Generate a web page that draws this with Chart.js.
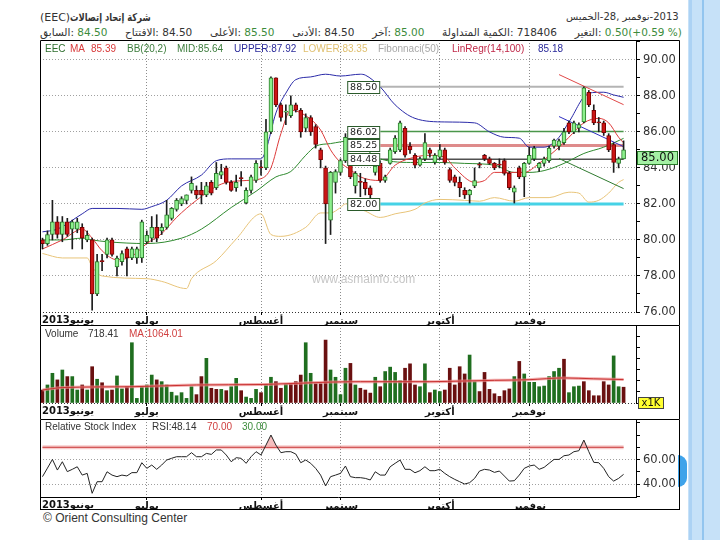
<!DOCTYPE html>
<html>
<head>
<meta charset="utf-8">
<title>EEC</title>
<script src="https://cdn.jsdelivr.net/npm/chart.js@4/dist/chart.umd.min.js"></script>
<style>
  html, body { margin: 0; padding: 0; background: #fff; }
  body { width: 720px; height: 540px; position: relative; overflow: hidden; font-family: "DejaVu Sans", sans-serif; }
  canvas { position: absolute; left: 40px; display: block; }
  #cPrice { top: 40px; }
  #cVol { top: 325px; }
  #cRsi { top: 419px; }
  .hdr { position: absolute; white-space: nowrap; direction: ltr; color: #333; font-size: 10.5px; }
  .hdr span { unicode-bidi: isolate; }
  .g { color: #3c8c3c; }
  #h1 { left: 40px; top: 11px; font-size: 11px; }
  #h1 .ar { display: inline-block; font-weight: bold; transform: scaleX(0.76); transform-origin: left center; }
  #hDate { left: 566px; top: 11px; font-size: 10px; }
  #h2 { left: 40px; top: 26px; width: 642px; display: flex; justify-content: space-between; }
  #foot { position: absolute; left: 43px; top: 511px; font: 12px "Liberation Sans", sans-serif; color: #333; }
  #strip { position: absolute; left: 688px; top: 0; width: 32px; height: 540px; background: #c6e1f8; }
  #strip1 { position: absolute; left: 689px; top: 0; width: 3px; height: 540px; background: #acd2f4; }
  #strip2 { position: absolute; left: 702px; top: 0; width: 2px; height: 540px; background: #93c5ef; }
  #knob { position: absolute; left: 678px; top: 455px; width: 9px; height: 32px; background: #3fa3ea; border-radius: 0 16px 16px 0 / 0 16px 16px 0; }
</style>
</head>
<body>
<div id="strip"></div><div id="strip1"></div><div id="strip2"></div>
<div id="knob"></div>

<div class="hdr" id="h1"><span>(EEC)</span><span class="ar">شركة إتحاد إتصالات</span></div>
<div class="hdr" id="hDate"><span>الخميس</span><span>-28, </span><span>نوفمبر</span><span>-2013</span></div>
<div class="hdr" id="h2">
  <span><span>السابق:</span> <span class="g">84.50</span></span>
  <span><span>الافتتاح:</span> <span>84.50</span></span>
  <span><span>الأعلى:</span> <span class="g">85.50</span></span>
  <span><span>الأدنى:</span> <span>84.50</span></span>
  <span><span>آخر:</span> <span class="g">85.00</span></span>
  <span><span>الكمية المتداولة:</span> <span>718406</span></span>
  <span><span>التغير:</span> <span class="g">0.50(+0.59 %)</span></span>
</div>

<canvas id="cPrice" width="640" height="285"></canvas>
<canvas id="cVol" width="640" height="94"></canvas>
<canvas id="cRsi" width="640" height="91"></canvas>

<div id="foot">© Orient Consulting Center</div>

<script>
// month axis
const months = ['يونيو2013', 'يوليو', 'أغسطس', 'سبتمبر', 'أكتوبر', 'نوفمبر'];
const monthStart = [0, 21, 44, 60, 80, 98];
const SLOTS = 120; // 118 sessions + 2 empty slots on the right

// daily prices
const open = [80.0, 79.8, 80.3, 81.0, 80.3, 81.0, 80.6, 80.6, 80.7, 80.0,
  80.0, 77.0, 78.85, 79.2, 80.0, 78.5, 78.8, 79.5, 79.0, 79.0,
  79.0, 79.9, 80.1, 80.7, 80.5, 80.7, 81.2, 81.7, 82.0, 82.2,
  82.75, 82.75, 82.75, 82.5, 83.2, 82.9, 83.6, 84.0, 83.2, 82.9,
  83.45, 82.05, 82.75, 83.3, 84.05, 84.0, 86.0, 89.0, 87.5, 87.1,
  86.9, 87.5, 87.2, 86.2, 86.8, 86.3, 85.0, 84.0, 81.1, 83.2,
  83.75, 84.4, 84.5, 83.0, 83.25, 83.2, 82.9, 83.75, 84.25, 83.3,
  84.25, 84.9, 85.0, 86.2, 85.2, 84.7, 84.15, 84.5, 85.0, 84.3,
  84.6, 85.0, 83.9, 83.5, 83.2, 82.75, 82.5, 83.0, 84.2, 84.7,
  84.5, 84.25, 84.2, 84.4, 83.7, 82.65, 84.0, 83.5, 84.25, 84.5,
  84.0, 84.25, 84.4, 85.2, 85.2, 85.4, 86.5, 86.0, 86.2, 86.55,
  88.2, 87.2, 86.55, 86.5, 85.8, 85.3, 84.25, 84.5];
const high = [80.1, 80.5, 82.2, 81.3, 81.3, 81.2, 81.1, 81.2, 80.9, 80.5,
  80.1, 79.2, 79.2, 80.1, 80.1, 79.1, 79.4, 79.6, 79.6, 79.6,
  81.1, 80.5, 81.3, 81.4, 80.9, 82.2, 81.8, 82.3, 82.4, 82.5,
  83.5, 83.0, 83.2, 83.2, 83.3, 84.3, 84.2, 84.1, 83.3, 83.6,
  83.8, 82.9, 83.6, 84.4, 84.4, 86.7, 89.05, 89.0, 87.6, 87.5,
  88.0, 87.6, 87.3, 87.0, 86.9, 86.4, 85.1, 84.1, 83.8, 83.9,
  84.5, 85.9, 84.6, 83.8, 83.7, 83.4, 83.0, 84.3, 84.4, 83.6,
  85.1, 85.8, 86.6, 86.3, 85.4, 84.8, 84.6, 85.9, 85.1, 84.8,
  85.3, 85.1, 84.0, 83.6, 83.5, 82.9, 82.8, 84.0, 84.3, 84.75,
  84.6, 84.3, 84.5, 84.5, 83.8, 83.0, 84.1, 84.3, 85.15, 85.2,
  84.3, 84.6, 85.2, 85.6, 85.6, 86.2, 86.6, 86.6, 86.5, 88.5,
  88.3, 87.5, 86.8, 86.6, 85.9, 85.4, 84.6, 85.5];
const low = [79.5, 79.7, 80.0, 80.1, 79.9, 80.2, 79.5, 80.4, 79.5, 79.9,
  76.1, 76.9, 78.3, 79.0, 79.1, 78.0, 78.6, 78.0, 78.9, 78.7,
  78.75, 79.8, 79.9, 79.9, 80.3, 80.6, 81.1, 81.6, 81.9, 82.0,
  82.6, 82.3, 82.0, 82.4, 82.5, 82.8, 83.4, 83.1, 82.7, 82.7,
  83.0, 82.0, 82.6, 83.2, 83.6, 83.9, 85.9, 87.4, 86.6, 86.4,
  86.8, 87.1, 85.7, 86.0, 85.8, 85.1, 84.0, 79.8, 80.3, 82.6,
  83.6, 84.3, 83.4, 82.6, 82.4, 82.5, 82.3, 83.6, 83.2, 83.2,
  84.2, 84.8, 84.9, 84.6, 84.8, 84.0, 84.1, 84.4, 84.6, 84.2,
  84.5, 84.2, 83.2, 83.0, 82.4, 82.3, 82.05, 82.9, 84.0, 84.4,
  84.2, 83.9, 84.0, 83.6, 82.8, 82.05, 83.4, 82.4, 84.2, 84.4,
  83.8, 84.1, 84.3, 85.1, 85.0, 85.3, 85.9, 85.9, 86.0, 86.5,
  87.4, 86.4, 86.0, 85.8, 84.9, 83.75, 84.0, 84.5];
const close = [79.8, 80.3, 81.0, 80.3, 81.0, 80.3, 81.0, 81.0, 80.1, 80.25,
  77.0, 78.8, 78.8, 80.0, 79.2, 79.0, 79.25, 79.0, 79.5, 79.5,
  81.0, 80.25, 80.7, 80.1, 80.7, 81.4, 81.75, 82.2, 82.3, 82.5,
  83.15, 82.5, 82.5, 83.0, 82.6, 83.7, 83.8, 83.2, 82.75, 83.2,
  83.4, 82.75, 83.5, 84.25, 84.0, 86.0, 89.0, 87.5, 86.8, 87.15,
  87.5, 87.2, 86.0, 86.8, 86.0, 85.3, 84.45, 82.0, 83.75, 83.8,
  84.4, 85.7, 83.5, 83.7, 83.2, 82.85, 82.5, 84.1, 83.3, 83.5,
  85.0, 85.65, 86.5, 84.7, 85.0, 84.15, 84.5, 85.4, 84.8, 84.7,
  85.0, 84.3, 83.3, 83.2, 82.9, 82.5, 82.75, 83.3, 84.15, 84.5,
  84.25, 84.0, 84.15, 83.7, 82.9, 82.9, 83.5, 84.25, 84.7, 85.1,
  84.25, 84.5, 85.1, 85.55, 85.5, 86.0, 86.0, 86.5, 86.4, 88.45,
  87.5, 86.5, 86.5, 85.95, 85.0, 84.3, 84.5, 85.0];

// volume in thousands, and bar colour per session (G = up, R = down)
const volume = [590, 820, 1350, 1050, 1500, 1200, 1200, 590, 820, 590,
  1650, 1080, 920, 560, 590, 1230, 640, 740, 2740, 210,
  740, 820, 1270, 1050, 970, 820, 490, 330, 470, 210,
  740, 380, 1200, 2030, 670, 620, 620, 560, 740, 1120,
  560, 270, 210, 620, 470, 850, 1170, 970, 670, 850,
  880, 970, 1270, 2740, 1350, 880, 880, 2860, 1500, 1170,
  380, 1580, 1800, 820, 670, 590, 450, 1170, 740, 1430,
  1630, 1390, 1010, 1580, 1780, 820, 740, 1780, 470, 590,
  520, 590, 1580, 820, 1650, 1320, 2180, 970, 520, 1390,
  620, 420, 300, 560, 640, 1200, 1890, 1320, 940, 940,
  740, 770, 1200, 1430, 1580, 1990, 470, 740, 770, 970,
  560, 330, 330, 970, 820, 2140, 740, 718];
const volDir = 'RGGRGRGGRGRGRGRGGRGGGGGRGGGGGGGRRGRRGRGGRGGGRGGRRGRRRGGRRRGGGGRG' +
  'RRRGRGGGGRRRGGRGGRRRRRGGRRRRRRRGRGGGGGGGGRGGGRRRRRRGG';

// indicator lines, [session, value] read at sample points
const maPts = [[0, 79.5], [4, 80.0], [8, 80.6], [10, 80.1], [12, 79.4], [15, 78.9], [18, 79.1],
  [21, 79.8], [24, 80.35], [27, 81.25], [31, 82.2], [36, 83.1], [41, 83.3], [44, 83.4],
  [46, 84.0], [48, 85.9], [50, 87.2], [53, 86.9], [56, 86.1], [58, 85.0], [60, 84.3],
  [62, 83.9], [64, 83.5], [68, 83.3], [71, 84.15], [75, 84.6], [78, 84.7], [81, 84.6],
  [83, 84.0], [87, 83.2], [89, 83.3], [91, 83.75], [94, 83.75], [97, 83.75], [100, 84.25],
  [104, 85.15], [106, 85.7], [109, 86.5], [112, 86.75], [114, 86.5], [116, 85.7], [117, 85.39]];
const bbUpperPts = [[0, 80.45], [3, 80.6], [8, 81.45], [10, 81.75], [15, 81.75], [20, 81.7],
  [22, 81.85], [25, 82.2], [28, 83.0], [32, 83.6], [35, 84.4], [38, 84.5], [44, 84.5],
  [45, 85.0], [47, 87.05], [49, 88.15], [51, 88.9], [54, 89.05], [57, 89.2], [60, 89.1],
  [64, 89.2], [65, 89.15], [68, 88.5], [71, 87.5], [75, 86.75], [81, 86.55], [87, 86.5],
  [90, 86.0], [93, 85.7], [96, 85.65], [98, 85.15], [101, 85.15], [104, 85.7], [106, 86.55],
  [110, 88.15], [113, 88.2], [115, 88.05], [117, 87.92]];
const bbMidPts = [[0, 80.0], [4, 80.0], [8, 80.1], [10, 80.0], [13, 79.9], [21, 79.8], [28, 80.1],
  [32, 80.6], [38, 81.8], [43, 82.7], [47, 83.5], [50, 83.8], [53, 84.7], [55, 85.2],
  [58, 85.35], [62, 85.5], [68, 84.5], [75, 84.3], [80, 84.3], [85, 84.25], [91, 84.15],
  [95, 83.75], [98, 83.75], [101, 83.85], [105, 84.25], [109, 84.8], [113, 85.15], [117, 85.64]];
const bbLowerPts = [[0, 79.25], [4, 79.0], [9, 79.0], [10, 78.5], [12, 78.0], [21, 77.85],
  [24, 77.7], [29, 77.3], [30, 77.85], [35, 78.85], [39, 80.05], [44, 81.45], [46, 80.3],
  [48, 80.2], [53, 80.7], [56, 81.5], [58, 81.5], [60, 81.8], [61, 82.0], [65, 81.6],
  [68, 81.25], [71, 81.45], [75, 81.7], [77, 82.05], [80, 82.25], [85, 82.2], [88, 82.15],
  [91, 82.35], [95, 82.15], [98, 82.35], [102, 82.35], [106, 82.65], [108, 82.6], [110, 82.1],
  [112, 82.2], [114, 82.6], [116, 83.2], [117, 83.35]];
const volMaPts = [[0, 590], [4, 700], [18, 740], [31, 820], [44, 840], [58, 950], [64, 970],
  [71, 970], [78, 970], [85, 1000], [91, 1030], [98, 1060], [105, 1140], [111, 1100], [117, 1064]];

// Fibonacci levels and linear regression channel
const fibLevels = [88.5, 86.02, 85.25, 84.48, 82.0];
const fibColors = ['#b4b4b4', '#4a964a', 'rgba(214,110,110,0.8)', '#505050', '#46d2e6'];
const fibWidths = [2, 1.5, 3, 1.5, 3];
const fibFrom = 68, fibTo = 117;
const regUpper = [[104, 89.18], [117, 87.51]];
const regMid = [[104, 86.85], [117, 85.18]];
const regLower = [[104, 84.52], [117, 82.85]];

// RSI per session
const rsi = [46.0, 53.0, 60.1, 51.4, 58.2, 50.1, 52.0, 54.1, 47.3, 48.7,
  32.4, 41.9, 41.9, 50.0, 47.3, 46.0, 47.3, 46.6, 49.3, 49.3,
  57.4, 52.8, 55.5, 52.0, 55.5, 59.6, 61.0, 62.3, 62.3, 62.3,
  65.6, 62.3, 62.3, 65.0, 64.2, 67.8, 67.8, 63.7, 58.2, 61.5,
  61.0, 56.9, 62.3, 66.4, 63.7, 71.8, 80.0, 71.8, 65.6, 66.4,
  66.4, 64.5, 57.4, 59.6, 56.9, 52.8, 47.3, 38.4, 46.0, 47.3,
  48.7, 54.7, 46.0, 45.2, 45.2, 44.6, 43.3, 50.0, 47.3, 47.3,
  54.1, 56.9, 59.6, 52.0, 52.0, 49.2, 50.9, 54.1, 50.9, 50.9,
  52.0, 48.7, 46.0, 43.8, 41.9, 40.0, 41.1, 44.6, 50.6, 52.0,
  51.4, 49.5, 50.6, 46.5, 42.4, 42.7, 47.3, 52.8, 54.7, 55.5,
  52.0, 53.6, 56.9, 60.1, 60.1, 63.1, 63.7, 66.4, 67.2, 75.9,
  66.4, 57.7, 57.4, 52.8, 46.0, 42.4, 44.6, 47.9];
const rsiHigh = 70;

// tick labels
const priceTicks = [76, 78, 80, 82, 84, 86, 88, 90];
const volTicks = [1000, 2000];
const rsiTicks = [40, 60];
const lastPrice = 85.0;

const slots = Array.from({ length: SLOTS }, (_, i) => String(i));
function sparse(pts) {
  const a = new Array(SLOTS).fill(null);
  pts.forEach(([i, v]) => { a[i] = v; });
  return a;
}

const UP = '#8cf08c', UP_EDGE = '#2a7a2a', DN = '#cc1515', DN_EDGE = '#7a0000';
const AX_FONT = { family: 'DejaVu Sans', size: 11.5 };
const MONTH_FONT = { family: 'DejaVu Sans', size: 10, weight: 'bold' };
const CLEAR = 'rgba(0,0,0,0)';

function xScale(borderShow, h) {
  return {
    type: 'category',
    labels: slots,
    offset: true,
    grid: {
      offset: false,
      color: c => (c.index > 0 && monthStart.includes(c.index)) ? '#8c8c8c' : CLEAR,
      tickColor: c => (c.index > 0 && monthStart.includes(c.index)) ? '#000' : CLEAR,
      tickLength: 3
    },
    border: { display: borderShow, color: '#000', dash: [1, 2] },
    ticks: {
      autoSkip: false, maxRotation: 0, minRotation: 0, padding: 0,
      font: MONTH_FONT, color: '#111',
      callback: (v, i) => {
        const m = monthStart.indexOf(i);
        return m > 0 ? months[m] : '';
      }
    },
    afterFit: s => { s.paddingLeft = 0; s.paddingRight = 0; s.height = h; }
  };
}

function yScale(min, max, step, labelled, fmt, darkAt) {
  return {
    position: 'right', min: min, max: max,
    ticks: {
      stepSize: step, includeBounds: false, autoSkip: false, padding: 3, font: AX_FONT, color: '#333',
      callback: v => labelled.includes(v) ? fmt(v) : ''
    },
    grid: {
      color: c => {
        const v = c.tick ? c.tick.value : null;
        if (v === darkAt) return '#333';
        return labelled.includes(v) ? '#a0a0a0' : CLEAR;
      },
      tickColor: '#000',
      tickLength: 4
    },
    border: { display: true, color: '#000', dash: [1, 2] },
    afterFit: s => { s.width = 44; s.paddingTop = 0; s.paddingBottom = 0; }
  };
}

function text(ctx, s, x, y, color, font, align) {
  ctx.fillStyle = color;
  ctx.font = font;
  ctx.textAlign = align || 'left';
  ctx.textBaseline = 'middle';
  ctx.fillText(s, x, y);
}

// frame, legend row and first month label, shared by the three panels
function panelPlugin(legend, legendY, bottomLine) {
  return {
    id: 'panel',
    afterDraw(chart) {
      const { ctx, width, height } = chart;
      const xs = chart.scales.x;
      ctx.save();
      legend.forEach(([s, color, x]) => text(ctx, s, x - 40, legendY, color, '10px "Liberation Sans"'));
      ctx.fillStyle = '#111';
      ctx.font = 'bold 10px "DejaVu Sans"';
      ctx.textAlign = 'left';
      ctx.textBaseline = 'top';
      ctx.fillText(months[0], 2, xs.top + 3);
      ctx.strokeStyle = '#000';
      ctx.lineWidth = 1;
      ctx.setLineDash([]);
      ctx.beginPath();
      ctx.moveTo(0.5, height); ctx.lineTo(0.5, 0.5); ctx.lineTo(width - 0.5, 0.5); ctx.lineTo(width - 0.5, height);
      if (bottomLine) { ctx.moveTo(0, height - 0.5); ctx.lineTo(width, height - 0.5); }
      ctx.stroke();
      ctx.restore();
    }
  };
}

const baseOpts = {
  responsive: false,
  animation: false,
  devicePixelRatio: 1,
  layout: { padding: 0 },
  plugins: { legend: { display: false }, tooltip: { enabled: false } }
};

function line(data, color, width, order, smooth) {
  return {
    type: 'line', data: data, borderColor: color, borderWidth: width, pointRadius: 0,
    spanGaps: true, fill: false, order: order,
    cubicInterpolationMode: smooth ? 'monotone' : 'default', tension: 0
  };
}

// ---------- price panel ----------
const isUp = close.map((c, i) => c >= open[i]);
const priceExtras = {
  id: 'priceExtras',
  afterDatasetsDraw(chart) {
    const { ctx } = chart;
    const xs = chart.scales.x, ys = chart.scales.y;
    ctx.save();
    text(ctx, 'www.asmainfo.com', 272, 240, '#c6c6c6', '12px "Liberation Sans"');
    // fibonacci level tags
    const right = xs.getPixelForValue(fibFrom);
    fibLevels.forEach(lv => {
      const y = Math.round(ys.getPixelForValue(lv));
      ctx.fillStyle = '#fff';
      ctx.fillRect(right - 33, y - 6, 33, 12);
      ctx.strokeStyle = '#2a5a2a';
      ctx.lineWidth = 1;
      ctx.strokeRect(right - 32.5, y - 5.5, 32, 12);
      text(ctx, lv.toFixed(2), right - 16.5, y + 0.5, '#222', '9.5px "DejaVu Sans"', 'center');
    });
    // last price tag on the axis
    const ly = Math.round(ys.getPixelForValue(lastPrice));
    ctx.fillStyle = '#a4f0a4';
    ctx.fillRect(xs.right + 1, ly + 1, 40, 13);
    ctx.strokeStyle = '#2a7a2a';
    ctx.strokeRect(xs.right + 1.5, ly + 1.5, 40, 13);
    text(ctx, lastPrice.toFixed(2), xs.right + 21.5, ly + 8, '#111', '11.5px "DejaVu Sans"', 'center');
    ctx.restore();
  }
};

const priceSets = [
  { type: 'bar', data: close.map((c, i) => [low[i], high[i]]), backgroundColor: '#1c1c1c',
    barThickness: 1, grouped: false, order: 2 },
  { type: 'bar', data: close.map((c, i) => [open[i], c]),
    backgroundColor: isUp.map(u => u ? UP : DN), borderColor: isUp.map(u => u ? UP_EDGE : DN_EDGE),
    borderWidth: 1, borderSkipped: false, barThickness: 4, minBarLength: 1, grouped: false, order: 1 }
];
fibLevels.forEach((lv, k) => {
  priceSets.push(line(sparse([[fibFrom, lv], [fibTo, lv]]), fibColors[k], fibWidths[k], 20 + k, false));
});
priceSets.push(line(sparse(bbLowerPts), '#e8c479', 1, 10, true));
priceSets.push(line(sparse(bbMidPts), '#2f8a2f', 1, 9, true));
priceSets.push(line(sparse(bbUpperPts), '#2a2aa8', 1, 8, true));
priceSets.push(line(sparse(maPts), '#dd3a3a', 1, 7, true));
priceSets.push(line(sparse(regUpper), '#e04848', 1, 6, false));
priceSets.push(line(sparse(regMid), '#2f2fc0', 1, 6, false));
priceSets.push(line(sparse(regLower), '#2f7a2f', 1, 6, false));

new Chart(document.getElementById('cPrice'), {
  type: 'bar',
  data: { labels: slots, datasets: priceSets },
  options: Object.assign({}, baseOpts, {
    scales: {
      x: xScale(false, 13),
      y: yScale(76, 91.1, 1, priceTicks, v => v.toFixed(2), 76)
    }
  }),
  plugins: [priceExtras, panelPlugin([
    ['EEC', '#2e6e2e', 45], ['MA', '#d83a3a', 70], ['85.39', '#d83a3a', 91],
    ['BB(20,2)', '#3c7c3c', 127], ['MID:85.64', '#3c7c3c', 177], ['UPPER:87.92', '#2a2a9a', 234],
    ['LOWER:83.35', '#e0c070', 303], ['Fibonnaci(50)', '#a8a8a8', 378],
    ['LinRegr(14,100)', '#c02848', 452], ['85.18', '#2a2a9a', 538]
  ], 9, false)]
});

// ---------- volume panel ----------
const volExtras = {
  id: 'volExtras',
  afterDraw(chart) {
    const { ctx } = chart;
    const xs = chart.scales.x;
    ctx.save();
    ctx.fillStyle = '#ffff30';
    ctx.fillRect(xs.right + 2, 72, 25, 11);
    ctx.strokeStyle = '#444';
    ctx.lineWidth = 1;
    ctx.strokeRect(xs.right + 2.5, 72.5, 25, 11);
    text(ctx, 'x1K', xs.right + 15, 78.5, '#111', '10px "DejaVu Sans"', 'center');
    ctx.restore();
  }
};
new Chart(document.getElementById('cVol'), {
  type: 'bar',
  data: {
    labels: slots,
    datasets: [
      line(sparse(volMaPts), 'rgba(236,140,140,0.7)', 3, 2, true),
      line(sparse(volMaPts), '#c83030', 1, 1, true),
      { type: 'bar', data: volume, backgroundColor: volume.map((v, i) => volDir[i] === 'G' ? '#1f6e1f' : '#6a1010'),
        barThickness: 3, grouped: false, order: 3 }
    ]
  },
  options: Object.assign({}, baseOpts, {
    scales: {
      x: xScale(false, 16),
      y: yScale(0, 3545, 500, volTicks, v => String(v), 0)
    }
  }),
  plugins: [volExtras, panelPlugin([
    ['Volume', '#333', 45], ['718.41', '#333', 88], ['MA:1064.01', '#d04040', 129]
  ], 9, false)]
});

// ---------- RSI panel ----------
new Chart(document.getElementById('cRsi'), {
  type: 'line',
  data: {
    labels: slots,
    datasets: [
      line(sparse([[0, rsiHigh], [117, rsiHigh]]), 'rgba(240,160,160,0.55)', 4, 4, false),
      line(sparse([[0, rsiHigh], [117, rsiHigh]]), '#c42a2a', 1, 3, false),
      Object.assign(line(rsi, '#222', 1, 1, false), {
        fill: { target: { value: rsiHigh }, above: 'rgba(242,170,170,0.75)', below: CLEAR }
      })
    ]
  },
  options: Object.assign({}, baseOpts, {
    scales: {
      x: xScale(true, 13),
      y: yScale(29.4, 93.1, 10, rsiTicks, v => v.toFixed(2), null)
    }
  }),
  plugins: [panelPlugin([
    ['Relative Stock Index', '#333', 45], ['RSI:48.14', '#333', 152],
    ['70.00', '#d04040', 207], ['30.00', '#3c8c3c', 242]
  ], 8, true)]
});
</script>
</body>
</html>
